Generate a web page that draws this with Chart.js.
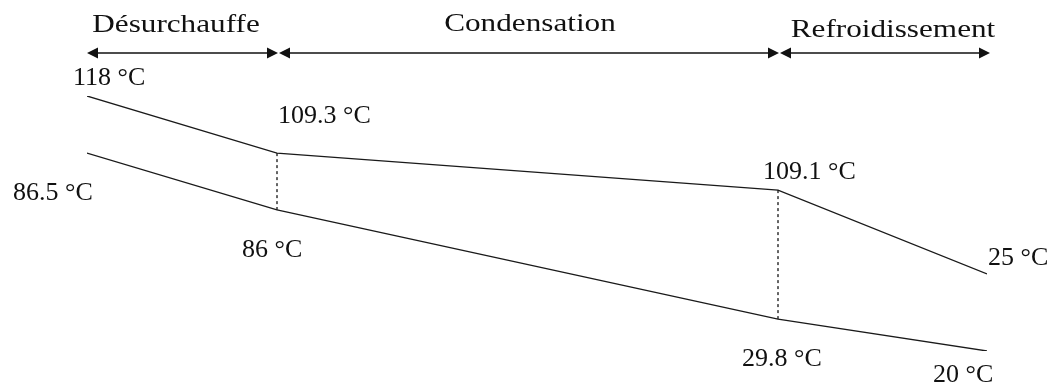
<!DOCTYPE html>
<html>
<head>
<meta charset="utf-8">
<script src="https://cdn.jsdelivr.net/npm/chart.js@4"></script>
<style>
  html, body { margin: 0; padding: 0; background: #fff; }
  #wrap { width: 1062px; height: 385px; position: relative; }
</style>
</head>
<body>
<div id="wrap"><canvas id="profileChart"></canvas></div>
<script>
// Stage boundaries along the exchanger (relative length units)
const stageX = [0, 190, 691, 900];
const stageNames = ["Désurchauffe", "Condensation", "Refroidissement"];

// Hot fluid (upper line) and cold fluid (lower line), schematic levels
const hotLevel = [100, 77.6, 63.1, 30.2];
const coldLevel = [77.6, 55.3, 12.5, 0];

// Temperatures written next to each point
const hotTemps = ["118 °C", "109.3 °C", "109.1 °C", "25 °C"];
const coldTemps = ["86.5 °C", "86 °C", "29.8 °C", "20 °C"];

document.addEventListener("DOMContentLoaded", function () {
  const ctxEl = document.getElementById("profileChart");

  const toPoints = (levels) => levels.map((y, i) => ({ x: stageX[i], y: y }));

  // label offsets in pixels from their point (dx, baseline dy)
  const hotOffsets = [[-14, -11], [1, -30], [-15, -11], [1, -9]];
  const coldOffsets = [[-74, 47], [-35, 47], [-36, 47], [-54, 31]];
  const headerBaselines = [32, 31, 37];
  const headerCenters = [176, 530, 893];

  const annotate = {
    id: "annotate",
    afterDraw(chart) {
      const c = chart.ctx;
      const xs = chart.scales.x;
      const ys = chart.scales.y;
      c.save();
      c.fillStyle = "#111";
      c.strokeStyle = "#111";

      // stage arrows
      const arrowY = 53;
      const head = 11, half = 5.5;
      for (let i = 0; i < stageNames.length; i++) {
        const a = xs.getPixelForValue(stageX[i]) + (i === 0 ? 0 : 2);
        const b = xs.getPixelForValue(stageX[i + 1]) + (i === stageNames.length - 1 ? 3 : 1);
        c.lineWidth = 1.6;
        c.beginPath();
        c.moveTo(a + head - 2, arrowY);
        c.lineTo(b - head + 2, arrowY);
        c.stroke();
        c.beginPath();
        c.moveTo(a, arrowY);
        c.lineTo(a + head, arrowY - half);
        c.lineTo(a + head, arrowY + half);
        c.closePath();
        c.fill();
        c.beginPath();
        c.moveTo(b, arrowY);
        c.lineTo(b - head, arrowY - half);
        c.lineTo(b - head, arrowY + half);
        c.closePath();
        c.fill();
      }

      // stage names (the scan is stretched sideways a little)
      c.font = "26px 'Liberation Serif', 'Times New Roman', serif";
      c.textAlign = "center";
      c.textBaseline = "alphabetic";
      stageNames.forEach((name, i) => {
        c.save();
        c.translate(headerCenters[i], headerBaselines[i]);
        c.scale(1.2, 1);
        c.fillText(name, 0, 0);
        c.restore();
      });

      // temperature labels
      c.font = "26px 'Liberation Serif', 'Times New Roman', serif";
      c.textAlign = "left";
      hotTemps.forEach((t, i) => {
        const px = xs.getPixelForValue(stageX[i]);
        const py = ys.getPixelForValue(hotLevel[i]);
        c.fillText(t, px + hotOffsets[i][0], py + hotOffsets[i][1]);
      });
      coldTemps.forEach((t, i) => {
        const px = xs.getPixelForValue(stageX[i]);
        const py = ys.getPixelForValue(coldLevel[i]);
        c.fillText(t, px + coldOffsets[i][0], py + coldOffsets[i][1]);
      });
      c.restore();
    },
  };

  const lineStyle = {
    borderColor: "#1a1a1a",
    borderWidth: 1.3,
    pointRadius: 0,
    fill: false,
    tension: 0,
  };

  new Chart(ctxEl, {
    type: "line",
    data: {
      datasets: [
        Object.assign({ label: "Chaud", data: toPoints(hotLevel) }, lineStyle),
        Object.assign({ label: "Froid", data: toPoints(coldLevel) }, lineStyle),
        Object.assign({}, lineStyle, {
          label: "sep1",
          data: [{ x: stageX[1], y: hotLevel[1] }, { x: stageX[1], y: coldLevel[1] }],
          borderDash: [3, 3],
          borderWidth: 1.2,
          borderColor: "#000",
        }),
        Object.assign({}, lineStyle, {
          label: "sep2",
          data: [{ x: stageX[2], y: hotLevel[2] }, { x: stageX[2], y: coldLevel[2] }],
          borderDash: [3, 3],
          borderWidth: 1.2,
          borderColor: "#000",
        }),
      ],
    },
    options: {
      responsive: true,
      maintainAspectRatio: false,
      animation: false,
      layout: { padding: { left: 87, right: 75, top: 96, bottom: 34 } },
      scales: {
        x: { type: "linear", min: 0, max: 900, display: false },
        y: { type: "linear", min: 0, max: 100, display: false },
      },
      plugins: {
        legend: { display: false },
        tooltip: { enabled: false },
      },
    },
    plugins: [annotate],
  });
});
</script>
</body>
</html>
